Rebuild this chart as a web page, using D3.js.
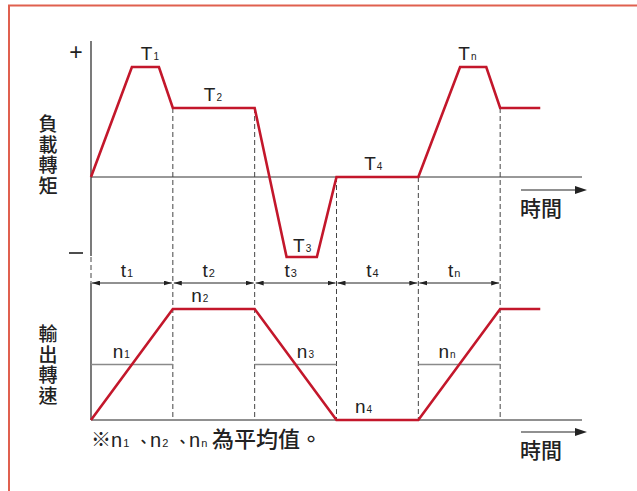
<!DOCTYPE html>
<html>
<head>
<meta charset="utf-8">
<script src="https://cdn.jsdelivr.net/npm/d3@7"></script>
<style>
  body { margin: 0; background: #fff; }
  text { font-family: "Liberation Sans", Arial, sans-serif; fill: #222; }
  .cjk { font-family: "Noto Sans CJK TC", "Noto Sans CJK SC", sans-serif; font-weight: 500; }
</style>
</head>
<body>
<div id="chart"></div>
<script>
// time in periods (t1..tn), torque and speed in arbitrary units
var torqueTime = [0, 0.5, 0.83, 1, 2, 2.39, 2.76, 3, 4, 4.51, 4.83, 5, 5.49];
var torqueVal = [0, 110, 110, 69, 69, -80, -80, 0, 0, 110, 110, 69, 69];
var speedTime = [0, 1, 2, 3, 4, 5, 5.49];
var speedVal = [0, 1, 1, 0, 0, 1, 1];
var avgSegments = [[0, 1], [2, 3], [4, 5]];   // n1, n3, nn average lines
var divisions = [1, 2, 3, 4, 5];
var periodLabels = ["1", "2", "3", "4", "n"];

var torqueLabels = [
  { sub: "1", t: 0.72, v: 110 },
  { sub: "2", t: 1.49, v: 69 },
  { sub: "3", t: 2.58, v: -80 },
  { sub: "4", t: 3.45, v: 0 },
  { sub: "n", t: 4.6, v: 110 }
];
var speedLabels = [
  { sub: "1", t: 0.37, v: 0.5 },
  { sub: "2", t: 1.33, v: 1 },
  { sub: "3", t: 2.62, v: 0.5 },
  { sub: "4", t: 3.33, v: 0 },
  { sub: "n", t: 4.35, v: 0.5 }
];

var W = 637, H = 491;
var red = "#c3172b";

var svg = d3.select("#chart").append("svg")
  .attr("width", W).attr("height", H);

// frame
svg.append("rect")
  .attr("x", 9).attr("y", 5.5).attr("width", 640).attr("height", 500)
  .attr("fill", "none").attr("stroke", "#e0604f").attr("stroke-width", 2);

var x = d3.scaleLinear().domain([0, 6]).range([91, 582]);
var yT = d3.scaleLinear().domain([-80, 110]).range([257, 67]);
var yN = d3.scaleLinear().domain([0, 1]).range([420, 309]);

var line = d3.line();

// axes
svg.append("line").attr("x1", x(0)).attr("x2", x(0)).attr("y1", 41).attr("y2", 256)
  .attr("stroke", "#222").attr("stroke-width", 1.2);
svg.append("line").attr("x1", x(0)).attr("x2", x(0)).attr("y1", 283).attr("y2", yN(0))
  .attr("stroke", "#222").attr("stroke-width", 1.2);
svg.append("line").attr("x1", x(0)).attr("x2", x(6)).attr("y1", yT(0)).attr("y2", yT(0))
  .attr("stroke", "#333").attr("stroke-width", 1);
svg.append("line").attr("x1", x(0)).attr("x2", x(6)).attr("y1", yN(0)).attr("y2", yN(0))
  .attr("stroke", "#222").attr("stroke-width", 1.2);

// dashed guides
svg.append("line").attr("x1", x(0)).attr("x2", x(0)).attr("y1", 257).attr("y2", 283)
  .attr("stroke", "#444").attr("stroke-dasharray", "5,3");
function torqueAt(t) {
  var i = torqueTime.indexOf(t);
  return torqueVal[i];
}
svg.selectAll(".guide").data(divisions).enter().append("line")
  .attr("x1", function (d) { return x(d); })
  .attr("x2", function (d) { return x(d); })
  .attr("y1", function (d) { return yT(torqueAt(d)); })
  .attr("y2", yN(0))
  .attr("stroke", "#444").attr("stroke-width", 1).attr("stroke-dasharray", "5,3");

// period dimension arrows
var defs = svg.append("defs");
defs.append("marker").attr("id", "ah").attr("viewBox", "0 0 10 6")
  .attr("refX", 10).attr("refY", 3).attr("markerWidth", 8).attr("markerHeight", 5)
  .attr("markerUnits", "userSpaceOnUse").attr("orient", "auto-start-reverse")
  .append("path").attr("d", "M0,0L10,3L0,6Z").attr("fill", "#222");
defs.append("marker").attr("id", "big").attr("viewBox", "0 0 12 8")
  .attr("refX", 2).attr("refY", 4).attr("markerWidth", 13).attr("markerHeight", 8)
  .attr("markerUnits", "userSpaceOnUse").attr("orient", "auto")
  .append("path").attr("d", "M0,0L12,4L0,8Z").attr("fill", "#222");

svg.selectAll(".dim").data(d3.range(5)).enter().append("line")
  .attr("x1", function (d) { return x(d) + 1; })
  .attr("x2", function (d) { return x(d + 1) - 1; })
  .attr("y1", 283).attr("y2", 283)
  .attr("stroke", "#222").attr("stroke-width", 1)
  .attr("marker-start", "url(#ah)").attr("marker-end", "url(#ah)");

svg.selectAll(".tlab").data(periodLabels).enter().append("text")
  .attr("x", function (d, i) { return x(i + 0.5) - 5; })
  .attr("y", 277).attr("text-anchor", "middle").attr("font-size", 19)
  .each(function (d) {
    var t = d3.select(this);
    t.append("tspan").text("t");
    t.append("tspan").attr("font-size", 11).attr("dx", 1).text(d);
  });

// time arrows
[yT(0) + 13, yN(0) + 12].forEach(function (yy, i) {
  svg.append("line").attr("x1", 521).attr("x2", 577).attr("y1", yy).attr("y2", yy)
    .attr("stroke", "#222").attr("stroke-width", 1.2).attr("marker-end", "url(#big)");
  svg.append("text").attr("class", "cjk").attr("x", 520).attr("y", yy + 26)
    .attr("font-size", 21).text("時間");
});

// average speed lines
svg.selectAll(".avg").data(avgSegments).enter().append("line")
  .attr("x1", function (d) { return x(d[0]); })
  .attr("x2", function (d) { return x(d[1]); })
  .attr("y1", yN(0.5)).attr("y2", yN(0.5))
  .attr("stroke", "#8a8a8a").attr("stroke-width", 1.6);

// torque and speed curves
svg.append("path")
  .attr("d", line(torqueTime.map(function (t, i) { return [x(t), yT(torqueVal[i])]; })))
  .attr("fill", "none").attr("stroke", red).attr("stroke-width", 2.6)
  .attr("stroke-linejoin", "miter");
svg.append("path")
  .attr("d", line(speedTime.map(function (t, i) { return [x(t), yN(speedVal[i])]; })))
  .attr("fill", "none").attr("stroke", red).attr("stroke-width", 2.6);

// labels
function subLabel(sel, main, sub, fs) {
  sel.append("tspan").text(main);
  sel.append("tspan").attr("font-size", fs || 10).attr("dx", 1).text(sub);
}
torqueLabels.forEach(function (d) {
  var t = svg.append("text").attr("x", x(d.t)).attr("y", yT(d.v) + (d.v < 0 ? -5 : -7))
    .attr("text-anchor", "middle").attr("font-size", 19);
  subLabel(t, "T", d.sub);
});
speedLabels.forEach(function (d) {
  var t = svg.append("text").attr("x", x(d.t)).attr("y", yN(d.v) - 7)
    .attr("text-anchor", "middle").attr("font-size", 19);
  subLabel(t, "n", d.sub);
});

// sign marks
svg.append("text").attr("x", 76).attr("y", 60).attr("text-anchor", "middle")
  .attr("font-size", 23).text("+");
svg.append("line").attr("x1", 69).attr("x2", 83).attr("y1", 253).attr("y2", 253)
  .attr("stroke", "#222").attr("stroke-width", 1.6);

// vertical axis titles, one text per character
function vertical(txt, y0) {
  svg.selectAll(null).data(txt.split("")).enter().append("text")
    .attr("class", "cjk").attr("text-anchor", "middle").attr("font-size", 19)
    .attr("x", 48).attr("y", function (c, i) { return y0 + i * 20.5; })
    .text(function (c) { return c; });
}
vertical("負載轉矩", 131);
vertical("輸出轉速", 341);

// footnote
var fn = svg.append("text").attr("y", 447).attr("font-size", 20);
fn.append("tspan").attr("class", "cjk").attr("x", 91).text("※");
fn.append("tspan").attr("x", 111).text("n");
fn.append("tspan").attr("font-size", 11).attr("dx", 1).text("1");
fn.append("tspan").attr("class", "cjk").attr("font-size", 15).attr("x", 136).text("、");
fn.append("tspan").attr("x", 150).text("n");
fn.append("tspan").attr("font-size", 11).attr("dx", 1).text("2");
fn.append("tspan").attr("class", "cjk").attr("font-size", 15).attr("x", 175).text("、");
fn.append("tspan").attr("x", 189).text("n");
fn.append("tspan").attr("font-size", 11).attr("dx", 1).text("n");
fn.append("tspan").attr("class", "cjk").attr("x", 212).attr("font-size", 22).text("為平均值。");
</script>
</body>
</html>
